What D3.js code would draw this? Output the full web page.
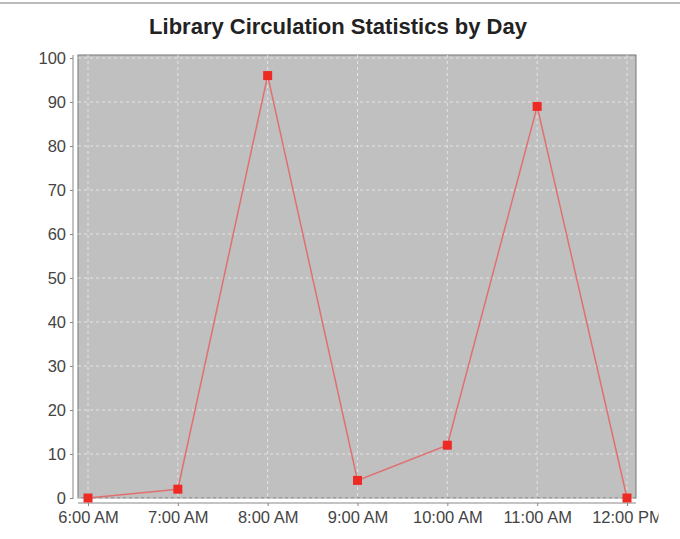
<!DOCTYPE html>
<html><head><meta charset="utf-8">
<script src="https://cdn.jsdelivr.net/npm/d3@7"></script>
<style>body{margin:0;background:#fff}</style>
</head><body><div id="chart"></div>
<script>
var hours = ["6:00 AM","7:00 AM","8:00 AM","9:00 AM","10:00 AM","11:00 AM","12:00 PM"];
var counts = [0, 2, 96, 4, 12, 89, 0];
var yTicks = [0,10,20,30,40,50,60,70,80,90,100];

var W = 680, H = 539;
var box = {left: 78, right: 636, top: 55, bottom: 498};

var svg = d3.select("#chart").append("svg").attr("width", W).attr("height", H)
    .style("font-family", "'Liberation Sans', Arial, sans-serif");

svg.append("line").attr("x1", 0).attr("x2", W).attr("y1", 3).attr("y2", 3)
    .attr("stroke", "#bbb").attr("stroke-width", 2);

svg.append("text").attr("x", 338).attr("y", 34).attr("text-anchor", "middle")
    .attr("font-weight", "bold").attr("font-size", 22).attr("fill", "#222")
    .text("Library Circulation Statistics by Day");

var x = d3.scalePoint().domain(hours).range([88, 627]);
var y = d3.scaleLinear().domain([0, 100]).range([498, 58]);

svg.append("rect").attr("x", box.left).attr("y", box.top)
    .attr("width", box.right - box.left).attr("height", box.bottom - box.top)
    .attr("fill", "#c0c0c0").attr("stroke", "#777").attr("stroke-width", 1);

// gridlines
svg.append("g").selectAll("line").data(yTicks).enter().append("line")
    .attr("x1", box.left).attr("x2", box.right)
    .attr("y1", function(d){ return y(d); }).attr("y2", function(d){ return y(d); })
    .attr("stroke", "#eee").attr("stroke-dasharray", "3,3").attr("stroke-width", 0.8);
svg.append("g").selectAll("line").data(hours).enter().append("line")
    .attr("y1", box.top).attr("y2", box.bottom)
    .attr("x1", function(d){ return x(d); }).attr("x2", function(d){ return x(d); })
    .attr("stroke", "#eee").attr("stroke-dasharray", "3,3").attr("stroke-width", 0.8);

// axes
var yAxis = svg.append("g").attr("transform", "translate(73,0)")
    .call(d3.axisLeft(y).tickValues(yTicks).tickSize(3).tickPadding(4));
var xAxis = svg.append("g").attr("transform", "translate(0,503)")
    .call(d3.axisBottom(x).tickSize(3).tickPadding(5));
[yAxis, xAxis].forEach(function(a){
    a.selectAll("text").attr("font-size", 16.5).attr("fill", "#444")
        .attr("font-family", "'Liberation Sans', Arial, sans-serif");
    a.selectAll("line,path").attr("stroke", "#888");
});
yAxis.select(".domain").attr("d", "M0," + box.top + "V" + (box.bottom + 1));
xAxis.select(".domain").attr("d", "M" + box.left + ",0H" + box.right);

// the 12:00 PM label is cut at the right edge
var xt = xAxis.selectAll(".tick").filter(function(d){ return d === "12:00 PM"; });
xt.append("clipPath").attr("id", "cut").append("rect")
    .attr("x", -50).attr("y", 0).attr("width", 50 + 658 - 627).attr("height", 40);
xt.select("text").attr("clip-path", "url(#cut)");

var line = d3.line().x(function(d, i){ return x(hours[i]); }).y(function(d){ return y(d); });
svg.append("path").datum(counts).attr("d", line)
    .attr("fill", "none").attr("stroke", "#e07070").attr("stroke-width", 1.5);

svg.append("g").selectAll("rect").data(counts).enter().append("rect")
    .attr("x", function(d, i){ return x(hours[i]) - 4.5; })
    .attr("y", function(d){ return y(d) - 4.5; })
    .attr("width", 9).attr("height", 9).attr("fill", "#ee2a24");
</script></body></html>
